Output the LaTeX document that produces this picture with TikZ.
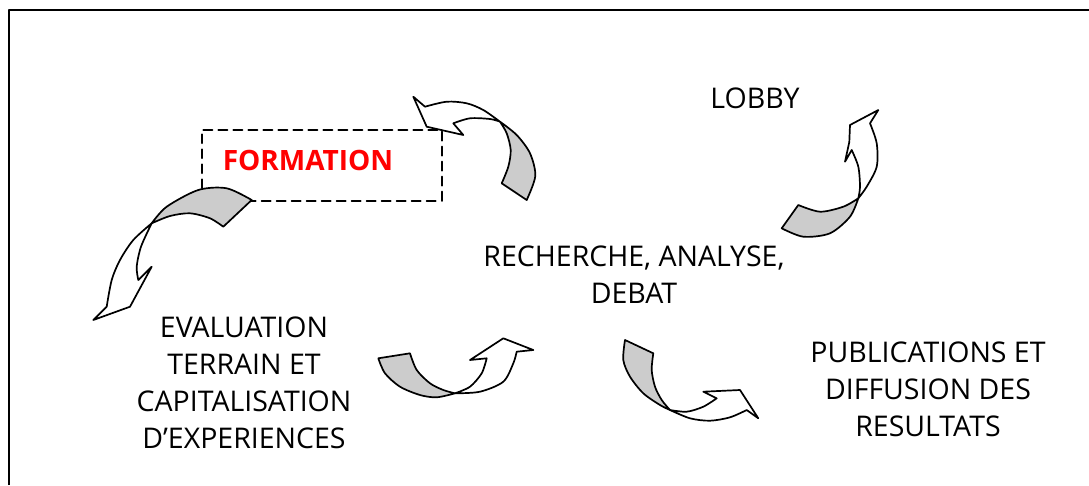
\documentclass[tikz,border=0pt]{standalone}
\usepackage{fontspec}
\setmainfont{Open Sans}
\usepackage{xcolor}
\usepackage{tikz}
\usetikzlibrary{shapes,arrows}
\usetikzlibrary{positioning}
\definecolor{ribbongray}{RGB}{204,204,204}
\tikzstyle{every node}=[font=\fontsize{28.5}{37}\selectfont]
\tikzstyle{every path}=[line cap=round,line join=round]
\tikzstyle{label}=[align=center,inner sep=0pt]
\tikzstyle{back}=[draw=black,fill=ribbongray,line width=1.7pt]
\tikzstyle{front}=[draw=black,fill=white,line width=1.7pt]
\tikzstyle{dashbox}=[draw=black,dashed,dash pattern=on 9pt off 6pt,line width=1.9pt,inner sep=0pt]

\begin{document}
\begin{tikzpicture}[x=1pt,y=-1pt]
\useasboundingbox (0,0) rectangle (1089,485);
\draw [line width=2pt,line cap=butt] (9,485) -- (9,10) -- (1089,10);

\node [dashbox,minimum width=240pt,minimum height=70.7pt] (formationbox) at (321.7,165.3) {};
\node [label,text=red,font=\fontsize{28}{37}\selectfont\bfseries] (formation) at (308,160) {FORMATION};
\node [label] (lobby) at (755,98) {LOBBY};
\node [label] (recherche) at (634,275) {RECHERCHE, ANALYSE,\\DEBAT};
\node [label] (evaluation) at (244,383) {EVALUATION\\TERRAIN ET\\CAPITALISATION\\D'EXPERIENCES};
\node [label] (publications) at (928,389) {PUBLICATIONS ET\\DIFFUSION DES\\RESULTATS};

% formation -> evaluation
\filldraw [back] plot [smooth] coordinates {(151.7,223.3) (166.7,206.7) (198.3,190) (226.7,188.3) (251.7,200)} -- (223.3,226.7)
  -- plot [smooth] coordinates {(223.3,226.7) (210,218.3) (190,213.3) (170,216) (151.7,223.3)} -- cycle;
\filldraw [front] plot [smooth] coordinates {(151.7,223.3) (133.3,240) (120,260) (111.7,280) (106.7,306.7)} -- (93.3,320) -- (130,306.7) -- (151.7,266.7) -- (138.3,280)
  -- plot [smooth] coordinates {(138.3,280) (136.7,266.7) (141,246.7) (151.7,223.3)} -- cycle;

% recherche -> formation
\filldraw [back] plot [smooth] coordinates {(500,121.7) (516.7,135) (530,153.3) (535.3,176) (526.7,200)} -- (501.7,183.3)
  -- plot [smooth] coordinates {(501.7,183.3) (508.3,166.7) (510.7,150) (506.7,133.3) (500,121.7)} -- cycle;
\filldraw [front] plot [smooth] coordinates {(500,121.7) (483.3,110) (466.7,103.3) (446.7,101.7) (425,106.7)} -- (413.3,96.7) -- (426.7,126.7) -- (463.3,135) -- (453.3,123.3)
  -- plot [smooth] coordinates {(453.3,123.3) (470,118.3) (490,119) (500,121.7)} -- cycle;

% recherche -> lobby
\filldraw [back] plot [smooth] coordinates {(781.7,228.3) (803.3,236.7) (830,233.3) (850,216.7) (858.3,198.3)}
  -- plot [smooth] coordinates {(858.3,198.3) (843.3,206.7) (820,211.7) (798.3,205)} -- cycle;
\filldraw [front] plot [smooth] coordinates {(858.3,198.3) (866.7,186.7) (876.7,166.7) (876.7,143.3) (870,123.3)} -- (878.3,110) -- (850,125) -- (849.3,142) -- (845,161.7) -- (851.7,150)
  -- plot [smooth] coordinates {(851.7,150) (858.3,166.7) (860,186.7) (858.3,198.3)} -- cycle;

% evaluation -> recherche
\filldraw [back] plot [smooth] coordinates {(378.3,358.3) (385,373.3) (400,386.7) (420,395) (436.7,397.3) (455,393.3)}
  -- plot [smooth] coordinates {(455,393.3) (443.3,390) (430,383.3) (416.7,370) (410,353.3)} -- cycle;
\filldraw [front] plot [smooth] coordinates {(455,393.3) (480,391.7) (503.3,381.7) (513.3,363.3) (516.7,351.7)} -- (533.3,350) -- (503.3,338.3) -- (470,360) -- (486.7,358.3)
  -- plot [smooth] coordinates {(486.7,358.3) (481.7,373.3) (470,386.7) (455,393.3)} -- cycle;

% recherche -> publications
\filldraw [back] plot [smooth] coordinates {(625,340) (623.3,360) (630,376.7) (643.3,393.3) (660,405) (670,410)}
  -- plot [smooth] coordinates {(670,410) (661.7,400) (655,386.7) (651.7,370) (653.3,353.3)} -- cycle;
\filldraw [front] plot [smooth] coordinates {(670,410) (690,418.3) (710,420.7) (730,417.3) (746.7,410)} -- (758.3,418.3) -- (740,390) -- (703.3,391.7) -- (716.7,398.3)
  -- plot [smooth] coordinates {(716.7,398.3) (703.3,406.7) (686.7,411.7) (670,410)} -- cycle;
\end{tikzpicture}
\end{document}
